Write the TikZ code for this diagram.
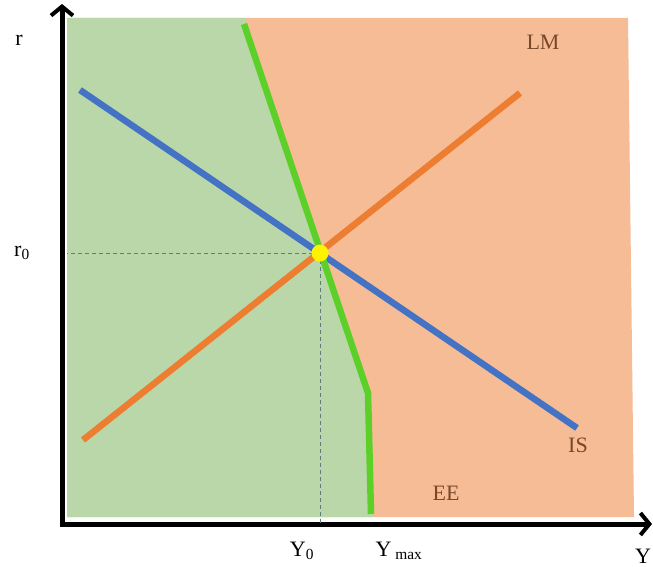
\documentclass[tikz,border=0pt]{standalone}
\usepackage{fontspec}
\setmainfont{Liberation Serif}
\usetikzlibrary{arrows.meta,positioning}
\usepackage{xcolor}

\definecolor{regiongreen}{RGB}{185,215,168}
\definecolor{regionorange}{RGB}{245,188,150}
\definecolor{isblue}{RGB}{68,114,196}
\definecolor{lmorange}{RGB}{237,125,49}
\definecolor{eegreen}{RGB}{92,208,40}
\definecolor{labelbrown}{RGB}{120,72,40}
\definecolor{guidegrey}{RGB}{95,125,125}

\begin{document}
\begin{tikzpicture}[
    x=1pt, y=-1pt,
    axis/.style={line width=5pt, -{Straight Barb[length=9pt,width=22pt,line width=4pt]}},
    curve/.style={line width=6.5pt},
    guide/.style={dashed, line width=0.7pt, draw=guidegrey, dash pattern=on 4pt off 3pt},
    axlabel/.style={inner sep=0pt, font=\fontsize{22}{24}\selectfont},
    curvelabel/.style={inner sep=0pt, text=labelbrown, font=\fontsize{22}{24}\selectfont}
]
\useasboundingbox (0,0) rectangle (653,567);

% regions
\fill[regionorange] (67,18) -- (628,18) -- (634,517) -- (67,517) -- cycle;
\fill[regiongreen] (67,18) -- (245,18) -- (369,393) -- (373,517) -- (67,517) -- cycle;

% curve end points
\coordinate (is-start) at (80,90);
\coordinate (is-end) at (577,428);
\coordinate (lm-start) at (83,440);
\coordinate (lm-end) at (520,93);
\coordinate (ee-start) at (244,24);
\coordinate (ee-kink) at (368,393);
\coordinate (ee-end) at (371,514);
\coordinate (origin) at (62,524);
\coordinate (y-tip) at (62,4);
\coordinate (x-tip) at (652,524);
\coordinate (left-edge) at (67,253);

% axes
\draw[axis] (62,526.5) -- (y-tip);
\draw[axis] (59.5,524) -- (x-tip);

% equilibrium guides
\node[circle, fill=yellow, minimum size=17pt, inner sep=0pt] (eq) at (320,253) {};
\draw[guide] (eq.center) -- (left-edge);
\draw[guide] (eq.center) -- (eq.center |- origin);

% curves
\draw[curve, isblue] (is-start) -- (is-end);
\draw[curve, lmorange] (lm-start) -- (lm-end);
\draw[curve, eegreen] (ee-start) -- (ee-kink) -- (ee-end);
\node[circle, fill=yellow, minimum size=17pt, inner sep=0pt] at (eq) {};

% labels
\node[axlabel] (r) at (19,40) {r};
\node[axlabel] (r0) at (22,253) {r\textsubscript{0}};
\node[axlabel] (y0) at (302,551) {Y\textsubscript{0}};
\node[axlabel] (ymax) at (399,551) {Y\,\textsubscript{max}};
\node[axlabel] (y) at (643,556) {Y};
\node[curvelabel] (lm) at (543,42) {LM};
\node[curvelabel] (is) at (578,445) {IS};
\node[curvelabel] (ee) at (446,493) {EE};
\end{tikzpicture}
\end{document}
